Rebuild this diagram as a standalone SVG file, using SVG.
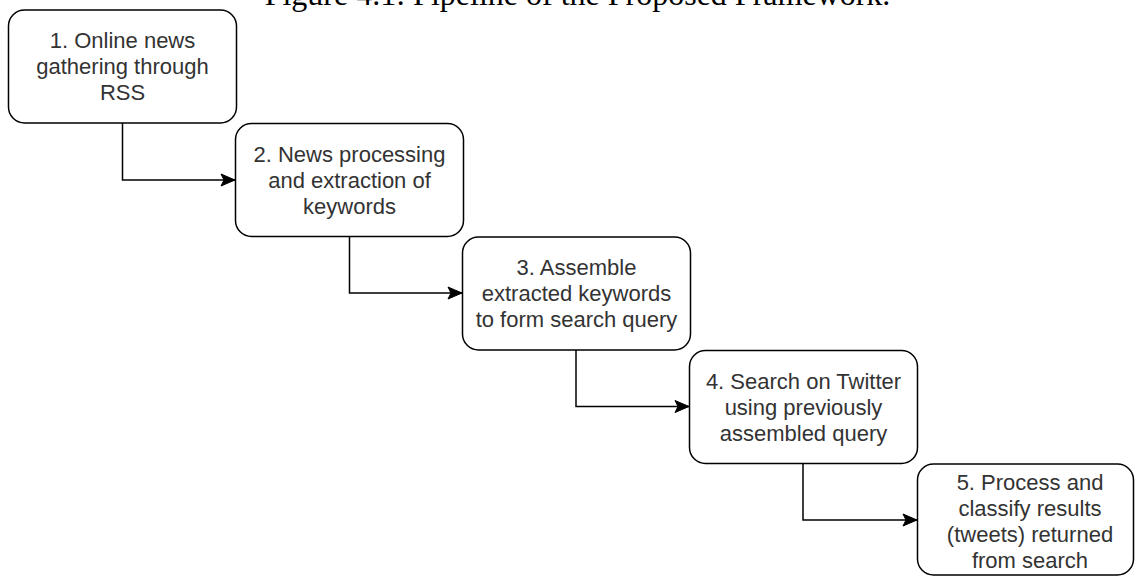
<svg xmlns="http://www.w3.org/2000/svg" width="1135" height="576" viewBox="0 0 1135 576">
<style>
.box{fill:#fff;stroke:#000;stroke-width:1.5}
.lbl{font-family:"Liberation Sans",Arial,sans-serif;font-size:22px;fill:#333;text-anchor:middle}
.title{font-family:"Liberation Serif","Times New Roman",serif;font-size:32px;fill:#000;text-anchor:middle}
.edge{fill:none;stroke:#000;stroke-width:1.5}
</style>
<defs>
<marker id="arr" markerUnits="userSpaceOnUse" markerWidth="16" markerHeight="14" refX="15" refY="7" orient="auto">
<path d="M1,1 L15,7 L1,13 L4,7 Z" fill="#000" stroke="#000" stroke-width="1"/>
</marker>
</defs>
<rect width="1135" height="576" fill="#fff"/>
<text class="title" x="577.5" y="5">Figure 4.1: Pipeline of the Proposed Framework.</text>
<g id="connectors">
<path class="edge" d="M122.5,123 V180 H235" marker-end="url(#arr)"/>
<path class="edge" d="M349.5,236 V293 H462" marker-end="url(#arr)"/>
<path class="edge" d="M576,350 V406.5 H689" marker-end="url(#arr)"/>
<path class="edge" d="M803,463 V520 H917" marker-end="url(#arr)"/>
</g>
<g id="node1">
<rect class="box" x="8.5" y="10" width="228" height="113" rx="16"/>
<text class="lbl" x="122.5"><tspan x="122.5" y="48">1. Online news</tspan><tspan x="122.5" y="74">gathering through</tspan><tspan x="122.5" y="100">RSS</tspan></text>
</g>
<g id="node2">
<rect class="box" x="235.5" y="123.5" width="228" height="113" rx="16"/>
<text class="lbl"><tspan x="349.5" y="161.5">2. News processing</tspan><tspan x="349.5" y="187.5">and extraction of</tspan><tspan x="349.5" y="213.5">keywords</tspan></text>
</g>
<g id="node3">
<rect class="box" x="462.5" y="237" width="228" height="113" rx="16"/>
<text class="lbl"><tspan x="576.5" y="275">3. Assemble</tspan><tspan x="576.5" y="301">extracted keywords</tspan><tspan x="576.5" y="327">to form search query</tspan></text>
</g>
<g id="node4">
<rect class="box" x="689.5" y="350.5" width="228" height="113" rx="16"/>
<text class="lbl"><tspan x="803.5" y="388.5">4. Search on Twitter</tspan><tspan x="803.5" y="414.5">using previously</tspan><tspan x="803.5" y="440.5">assembled query</tspan></text>
</g>
<g id="node5">
<rect class="box" x="917.5" y="464" width="216" height="111" rx="16"/>
<text class="lbl"><tspan x="1030" y="489.5">5. Process and</tspan><tspan x="1030" y="515.5">classify results</tspan><tspan x="1030" y="541.5">(tweets) returned</tspan><tspan x="1030" y="567.5">from search</tspan></text>
</g>
</svg>
